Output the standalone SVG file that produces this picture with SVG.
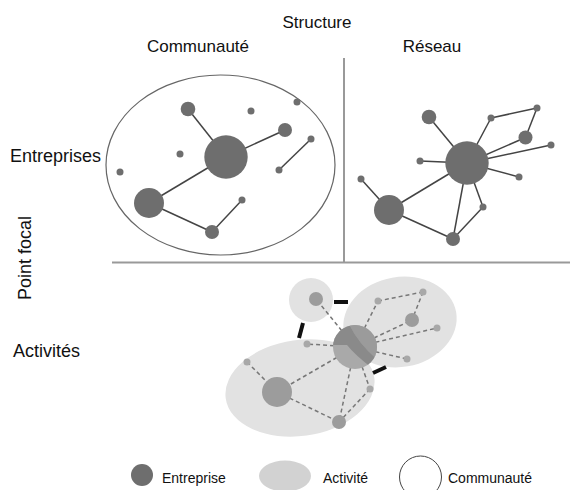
<svg xmlns="http://www.w3.org/2000/svg" width="570" height="490" viewBox="0 0 570 490">
<defs>
<style>
.lbl{font-family:"Liberation Sans",Arial,sans-serif;fill:#111}
.big{font-size:17px}
.side{font-size:18px}
.leg{font-size:14px}
.axis{stroke:#999;stroke-width:2;fill:none}
.net{stroke:#444;stroke-width:1.5;fill:none}
.dash{stroke:#777;stroke-width:1.5;stroke-dasharray:4 3;fill:none}
.bar{stroke:#111;stroke-width:4;fill:none}
.ent{fill:#6e6e6e}
.act{fill:#e2e2e2}
.an{fill:#9c9c9c}
.ad{fill:#a8a8a8}
</style>
<clipPath id="cc"><circle cx="355" cy="347" r="22"/></clipPath>
</defs>
<rect width="570" height="490" fill="#fff"/>

<g id="labels">
<text class="lbl big" x="317" y="28" text-anchor="middle">Structure</text>
<text class="lbl big" x="198" y="52" text-anchor="middle">Communauté</text>
<text class="lbl big" x="432" y="52" text-anchor="middle">Réseau</text>
<text class="lbl side" x="10" y="162">Entreprises</text>
<text class="lbl side" x="13" y="357">Activités</text>
<text class="lbl side" transform="translate(31,258) rotate(-90)" text-anchor="middle">Point focal</text>
</g>

<g id="axes">
<line class="axis" x1="344" y1="58" x2="344" y2="262"/>
<line class="axis" x1="112" y1="262.5" x2="570" y2="262.5"/>
</g>

<g id="community-ellipse">
<ellipse cx="220.5" cy="165" rx="114.5" ry="90" fill="none" stroke="#666" stroke-width="1.2"/>
</g>

<g id="connectors">
<g id="community-links">
<line class="net" x1="188" y1="109" x2="226" y2="157"/>
<line class="net" x1="226" y1="157" x2="285" y2="130"/>
<line class="net" x1="226" y1="157" x2="149" y2="203"/>
<line class="net" x1="149" y1="203" x2="212" y2="232"/>
<line class="net" x1="212" y1="232" x2="242" y2="200"/>
<line class="net" x1="311" y1="139" x2="279" y2="170"/>
</g>
<g id="network-links">
<line class="net" x1="467" y1="163" x2="429" y2="117"/>
<line class="net" x1="467" y1="163" x2="491" y2="118"/>
<line class="net" x1="491" y1="118" x2="537" y2="108"/>
<line class="net" x1="537" y1="108" x2="525.5" y2="137.5"/>
<line class="net" x1="467" y1="163" x2="525.5" y2="137.5"/>
<line class="net" x1="467" y1="163" x2="551" y2="145"/>
<line class="net" x1="467" y1="163" x2="420" y2="161"/>
<line class="net" x1="467" y1="163" x2="519" y2="177"/>
<line class="net" x1="467" y1="163" x2="389" y2="210"/>
<line class="net" x1="361" y1="179" x2="389" y2="210"/>
<line class="net" x1="389" y1="210" x2="453" y2="239"/>
<line class="net" x1="467" y1="163" x2="453" y2="239"/>
<line class="net" x1="467" y1="163" x2="483" y2="207"/>
<line class="net" x1="483" y1="207" x2="453" y2="239"/>
</g>
</g>

<g id="activity-areas">
<circle class="act" cx="311" cy="300" r="22"/>
<ellipse class="act" cx="400" cy="322" rx="57" ry="45" transform="rotate(-10 400 322)"/>
<ellipse class="act" cx="300" cy="388" rx="75" ry="48" transform="rotate(-8 300 388)"/>
</g>

<g id="activity-connectors">
<line class="dash" x1="355" y1="347" x2="316" y2="299"/>
<line class="dash" x1="355" y1="347" x2="378" y2="301"/>
<line class="dash" x1="378" y1="301" x2="423" y2="292"/>
<line class="dash" x1="423" y1="292" x2="412" y2="320"/>
<line class="dash" x1="355" y1="347" x2="412" y2="320"/>
<line class="dash" x1="355" y1="347" x2="437" y2="328"/>
<line class="dash" x1="355" y1="347" x2="407" y2="359"/>
<line class="dash" x1="355" y1="347" x2="307" y2="344"/>
<line class="dash" x1="355" y1="347" x2="277" y2="392"/>
<line class="dash" x1="355" y1="347" x2="339" y2="422"/>
<line class="dash" x1="355" y1="347" x2="370" y2="389"/>
<line class="dash" x1="370" y1="389" x2="339" y2="422"/>
<line class="dash" x1="277" y1="392" x2="339" y2="422"/>
<line class="dash" x1="247" y1="362" x2="277" y2="392"/>
<line class="bar" x1="334" y1="302" x2="348" y2="302"/>
<line class="bar" x1="303" y1="323" x2="299" y2="338"/>
<line class="bar" x1="373" y1="373" x2="386" y2="367"/>
</g>

<g id="community-nodes">
<circle id="c-big" class="ent" cx="226" cy="157" r="21.7"/>
<circle id="c-n1" class="ent" cx="188" cy="109" r="7.3"/>
<circle id="c-n2" class="ent" cx="285" cy="130" r="7"/>
<circle id="c-n3" class="ent" cx="149" cy="203" r="15"/>
<circle id="c-n4" class="ent" cx="212" cy="232" r="7"/>
<circle class="ent" cx="251" cy="111" r="3.5"/>
<circle class="ent" cx="297" cy="102" r="3.5"/>
<circle class="ent" cx="311" cy="139" r="3.5"/>
<circle class="ent" cx="279" cy="170" r="3.5"/>
<circle class="ent" cx="180" cy="154" r="3.5"/>
<circle class="ent" cx="120" cy="172" r="3.5"/>
<circle class="ent" cx="242" cy="200" r="3.5"/>
</g>

<g id="network-nodes">
<circle id="r-big" class="ent" cx="467" cy="163" r="21.7"/>
<circle id="r-m1" class="ent" cx="429" cy="117" r="7.3"/>
<circle id="r-m2" class="ent" cx="525.5" cy="137.5" r="7"/>
<circle id="r-m3" class="ent" cx="389" cy="210" r="15"/>
<circle id="r-m4" class="ent" cx="453" cy="239" r="7"/>
<circle class="ent" cx="491" cy="118" r="3.5"/>
<circle class="ent" cx="537" cy="108" r="3.5"/>
<circle class="ent" cx="551" cy="145" r="3.5"/>
<circle class="ent" cx="420" cy="161" r="3.5"/>
<circle class="ent" cx="519" cy="177" r="3.5"/>
<circle class="ent" cx="361" cy="179" r="3.5"/>
<circle class="ent" cx="483" cy="207" r="3.5"/>
</g>

<g id="activity-nodes">
<g id="a-center" clip-path="url(#cc)">
<rect x="330" y="322" width="50" height="50" fill="#a9a9a9"/>
<path d="M348,322 Q358,344 380,362 L380,322 Z" fill="#9b9b9b"/>
<path d="M330,322 L348,322 Q358,344 380,362 L372,368 Q355,355 347,345 L330,345 Z" fill="#8a8a8a"/>
</g>
<circle id="a-n1" class="an" cx="316" cy="299" r="7"/>
<circle id="a-n2" class="an" cx="412" cy="320" r="7"/>
<circle id="a-n3" class="an" cx="277" cy="392" r="15"/>
<circle id="a-n4" class="an" cx="339" cy="422" r="7"/>
<circle class="ad" cx="378" cy="301" r="3.5"/>
<circle class="ad" cx="423" cy="292" r="3.5"/>
<circle class="ad" cx="437" cy="328" r="3.5"/>
<circle class="ad" cx="407" cy="359" r="3.5"/>
<circle class="ad" cx="307" cy="344" r="3.5"/>
<circle class="ad" cx="247" cy="362" r="3.5"/>
<circle class="ad" cx="370" cy="389" r="3.5"/>
</g>

<g id="legend">
<circle class="ent" cx="142" cy="475" r="11"/>
<text class="lbl leg" x="162" y="483">Entreprise</text>
<ellipse cx="285" cy="476" rx="26" ry="15.5" fill="#d2d2d2"/>
<text class="lbl leg" x="323" y="483">Activité</text>
<circle cx="420.5" cy="477" r="21" fill="none" stroke="#444" stroke-width="1"/>
<text class="lbl leg" x="448" y="483">Communauté</text>
</g>
</svg>
